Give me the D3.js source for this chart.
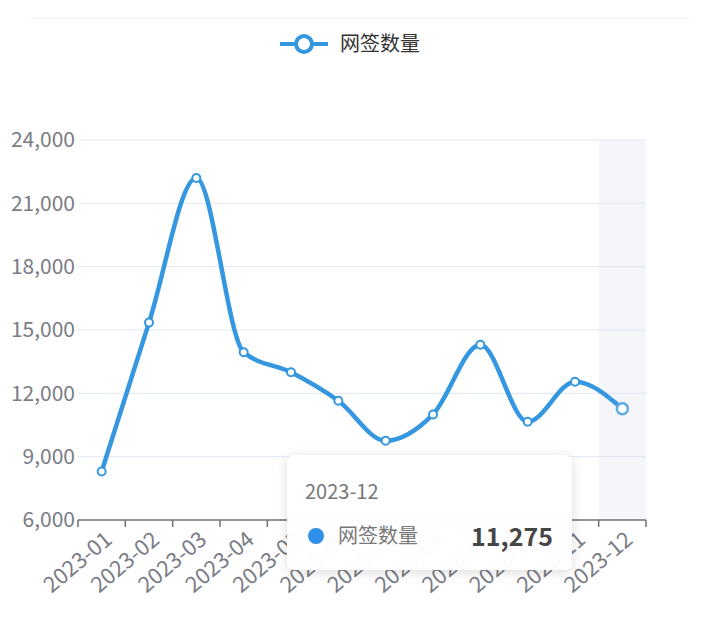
<!DOCTYPE html><html><head><meta charset="utf-8">
<script src="https://cdn.jsdelivr.net/npm/d3@7/dist/d3.min.js"></script>
<style>body{margin:0;background:#fff}svg{font-family:"Noto Sans CJK SC","Noto Sans",sans-serif}</style></head><body>
<svg id="c" width="716" height="639"></svg>
<script>
const categories=["2023-01","2023-02","2023-03","2023-04","2023-05","2023-06","2023-07","2023-08","2023-09","2023-10","2023-11","2023-12"];
const values=[8300,15350,22200,13950,13000,11650,9750,11000,14300,10650,12550,11275];
const yTicks=[6000,9000,12000,15000,18000,21000,24000];
const seriesName="网签数量";
const svg=d3.select("#c");
const x=d3.scaleBand().domain(categories).range([78,646]);
const y=d3.scaleLinear().domain([6000,24000]).range([520,140]);
const blue="#3597e0";
svg.append("line").attr("x1",30).attr("x2",690).attr("y1",18).attr("y2",18).attr("stroke","#eef0f4");
svg.append("rect").attr("x",x("2023-12")).attr("y",140).attr("width",x.bandwidth()).attr("height",380).attr("fill","#f4f6fa");
yTicks.forEach(t=>{
  if(t>6000)svg.append("line").attr("x1",78).attr("x2",646).attr("y1",y(t)).attr("y2",y(t)).attr("stroke","#e0e6f1");
  svg.append("text").attr("x",75).attr("y",y(t)).attr("dy","0.35em").attr("text-anchor","end").attr("font-size",21).attr("fill","#7a7c85").text(d3.format(",")(t));
});
svg.append("line").attr("x1",78).attr("x2",646).attr("y1",520).attr("y2",520).attr("stroke","#6e7079").attr("stroke-width",1.5);
d3.range(categories.length+1).forEach(i=>{const xx=78+i*x.step();svg.append("line").attr("x1",xx).attr("x2",xx).attr("y1",520).attr("y2",527).attr("stroke","#6e7079").attr("stroke-width",1.5);});
categories.forEach(c=>{
  const cx=x(c)+x.bandwidth()/2;
  svg.append("text").attr("transform",`translate(${cx+2},${530}) rotate(-40)`).attr("text-anchor","end").attr("dy","0.7em").attr("font-size",22).attr("fill","#7a7c85").text(c);
});
const pts=categories.map((c,i)=>[x(c)+x.bandwidth()/2,y(values[i])]);
svg.append("path").attr("d",d3.line().curve(d3.curveMonotoneX)(pts)).attr("fill","none").attr("stroke",blue).attr("stroke-width",4.5).attr("stroke-linejoin","round");
pts.forEach((p,i)=>{
  const last=i===pts.length-1;
  svg.append("circle").attr("cx",p[0]).attr("cy",p[1]).attr("r",last?5.5:4).attr("fill","#fff").attr("stroke",last?"#5aabe6":blue).attr("stroke-width",last?2.5:2);
});
svg.append("line").attr("x1",280).attr("x2",328).attr("y1",44).attr("y2",44).attr("stroke",blue).attr("stroke-width",4);
svg.append("circle").attr("cx",304).attr("cy",44).attr("r",8).attr("fill","#fff").attr("stroke",blue).attr("stroke-width",4);
svg.append("text").attr("x",340).attr("y",44).attr("dy","0.35em").attr("font-size",20).attr("fill","#333").text(seriesName);
const defs=svg.append("defs");
const f=defs.append("filter").attr("id","sh").attr("x","-20%").attr("y","-20%").attr("width","140%").attr("height","140%");
f.append("feDropShadow").attr("dx",0).attr("dy",2).attr("stdDeviation",6).attr("flood-color","#000").attr("flood-opacity",0.15);
svg.append("rect").attr("x",287).attr("y",455).attr("width",285).attr("height",115).attr("rx",8).attr("fill","rgba(255,255,255,0.97)").attr("filter","url(#sh)");
svg.append("text").attr("x",305).attr("y",492).attr("dy","0.35em").attr("font-size",20).attr("fill","#777").text(categories[11]);
svg.append("circle").attr("cx",316).attr("cy",536).attr("r",8).attr("fill","#2f8fea");
svg.append("text").attr("x",338).attr("y",536).attr("dy","0.35em").attr("font-size",20).attr("fill","#777").text(seriesName);
svg.append("text").attr("x",553).attr("y",537).attr("dy","0.35em").attr("text-anchor","end").attr("font-size",25).attr("font-weight","bold").attr("fill","#464646").text(d3.format(",")(values[11]));
</script></body></html>
